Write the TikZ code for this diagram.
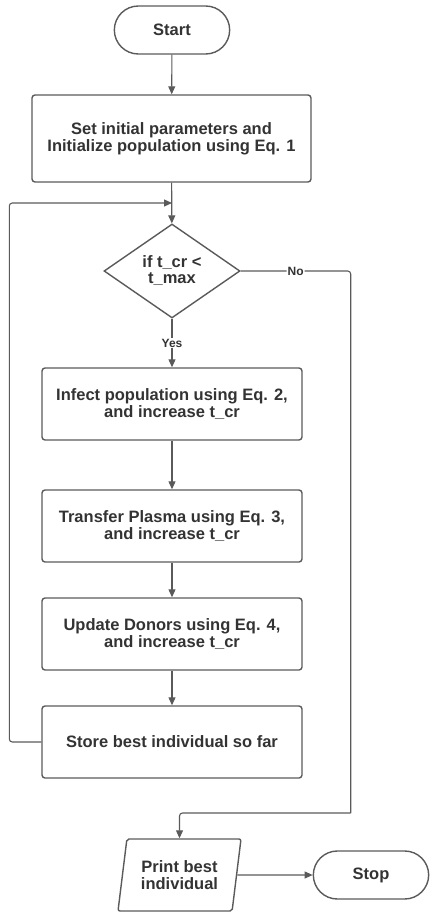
\documentclass[tikz,border=0pt]{standalone}
\usepackage{fontspec}
\setmainfont{Liberation Sans}
\usepackage{xcolor}
\usetikzlibrary{shapes.geometric, shapes.misc, arrows.meta, positioning}

\definecolor{linegray}{HTML}{5A5A5A}
\definecolor{textgray}{HTML}{333333}

\tikzset{
  terminal/.style={rounded rectangle, draw=linegray, line width=1.4pt, minimum width=122pt, minimum height=48pt, font=\bfseries\fontsize{16.5}{17}\selectfont, text=textgray},
  process/.style={rectangle, rounded corners=3pt, draw=linegray, line width=1.4pt, minimum width=260pt, minimum height=72pt, align=center, font=\bfseries\fontsize{16.5}{17}\selectfont, text=textgray},
  decision/.style={diamond, draw=linegray, line width=1.4pt, minimum width=136pt, minimum height=94pt, inner sep=0pt, align=center, font=\bfseries\fontsize{16.5}{16}\selectfont, text=textgray},
  inout/.style={trapezium, trapezium left angle=73, trapezium right angle=107, trapezium stretches body, rounded corners=2pt, draw=linegray, line width=1.4pt, minimum width=123pt, minimum height=72pt, inner sep=0pt, align=center, font=\bfseries\fontsize{16.5}{17}\selectfont, text=textgray},
  flow/.style={draw=linegray, line width=1.1pt, -{Triangle[length=8pt,width=7pt]}},
  link/.style={draw=linegray, line width=1.1pt, rounded corners=3pt},
  lbl/.style={font=\bfseries\fontsize{12}{12}\selectfont, text=textgray, fill=white, inner sep=1pt}
}

\begin{document}
\begin{tikzpicture}[x=1pt, y=-1pt]
    \useasboundingbox (0,0) rectangle (433,912);

    % Start and set-up
    \node[terminal] (start) at (172,30) {Start};
    \node[process, minimum width=279pt, minimum height=87pt] (init) at (171.5,138.5) {Set initial parameters and\\Initialize population using Eq. 1};

    % Loop condition
    \coordinate (join) at (172,203);
    \node[decision] (cond) at (172,271) {if t\_cr <\\t\_max};

    % Loop body
    \node[process] (infect) at (172,404) {Infect population using Eq. 2,\\and increase t\_cr};
    \node[process] (plasma) at (172,526) {Transfer Plasma using Eq. 3,\\and increase t\_cr};
    \node[process] (donors) at (172,634) {Update Donors using Eq. 4,\\and increase t\_cr};
    \node[process] (store) at (172,742) {Store best individual so far};

    % Output and end
    \node[inout] (print) at (179.5,875) {Print best\\individual};
    \node[terminal] (stop) at (371,875) {Stop};

    % Connectors
    \draw[flow] (start) -- (init);
    \draw[flow] (init) -- (cond);
    \draw[flow] (cond) -- node[lbl] {Yes} (infect);
    \draw[flow] (infect) -- (plasma);
    \draw[flow] (plasma) -- (donors);
    \draw[flow] (donors) -- (store);
    \draw[link, flow] (store.west) -- ++(-32,0) |- (join);
    \draw[link] (cond.east) -- node[lbl] {No} ++(110,0) -- ++(0,542) coordinate (turn);
    \draw[link, flow] (turn) -| (print.north);
    \draw[flow] (print) -- (stop);
\end{tikzpicture}
\end{document}
